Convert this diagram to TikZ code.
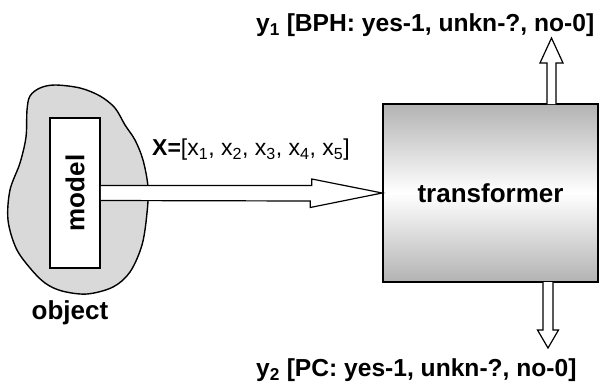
\documentclass[tikz,border=0pt]{standalone}
\usepackage{fontspec}
\setmainfont{Liberation Sans}
\usetikzlibrary{calc}
\begin{document}
\begin{tikzpicture}[x=1pt,y=-1pt,
  outl/.style={draw=black,line width=1.6pt},
  fatarrow/.style={draw=black,line width=1.2pt,fill=white,line join=miter},
  bigtxt/.style={font=\fontsize{26}{30}\selectfont\bfseries,inner sep=0pt},
  lbl/.style={font=\fontsize{23}{27}\selectfont,inner sep=0pt},
  ylbl/.style={font=\fontsize{24.6}{28}\selectfont\bfseries,inner sep=0pt,anchor=west}]
\useasboundingbox (0,0) rectangle (602,383);
% object blob
\draw[outl,fill=gray!30,line width=1.4pt] plot[smooth cycle,tension=0.55] coordinates {
 (30,96) (40,88) (55,85) (80,88) (100,96) (115,108) (125,125) (135,140) (143,160)
 (148,187) (147,213) (142,245) (130,272) (113,287) (87,294) (62,291) (45,283)
 (30,268) (16,248) (8,220) (10,190) (20,163) (26,137) (27,110)};
% model box
\node[outl,fill=white,minimum width=50pt,minimum height=150pt,inner sep=0pt] (model) at (75,193) {};
\node[bigtxt,rotate=90] (modeltxt) at (model.center) {model};
\node[bigtxt] (object) at (70,313) {object};
% transformer
\node[outl,minimum width=215pt,minimum height=178pt,inner sep=0pt,
  top color=gray!60,bottom color=gray!60,middle color=white,shading angle=0] (tr) at (490.5,193) {};
\node[bigtxt] (trtxt) at (tr.center) {transformer};
% main arrow
\draw[fatarrow] ($(model.east)+(0,-7.5)$) -- ++(211,0) -- ++(0,-6.5) -- (tr.west) -- ++(-72,14.5) -- ++(0,-6.5) -- ($(model.east)+(0,7.5)$);
\node[lbl,anchor=west] (xlbl) at (152,150) {\textbf{X=}[x\textsubscript{1}, x\textsubscript{2}, x\textsubscript{3}, x\textsubscript{4}, x\textsubscript{5}]};
% output labels
\node[ylbl] (y1) at (256,25) {y\textsubscript{1} [BPH: yes-1, unkn-?, no-0]};
\node[ylbl] (y2) at (256,370) {y\textsubscript{2} [PC: yes-1, unkn-?, no-0]};
% up arrow
\coordinate (ub) at (551.5,104);
\draw[fatarrow] (ub) ++(-4.5,0) -- ++(0,-41) -- ++(-7,0) -- ++(11.5,-25) -- ++(11.5,25) -- ++(-7,0) -- ++(0,41);
% down arrow
\coordinate (db) at (548,282);
\draw[fatarrow] (db) ++(-5,0) -- ++(0,48) -- ++(-5.5,0) -- ++(10.5,18) -- ++(10.5,-18) -- ++(-5.5,0) -- ++(0,-48);
\end{tikzpicture}
\end{document}
